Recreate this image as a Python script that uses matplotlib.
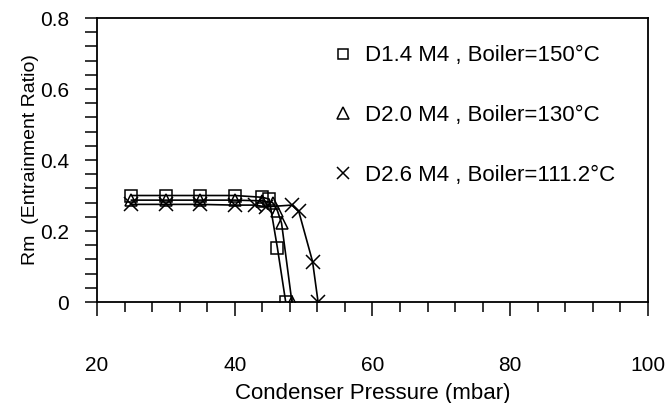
import matplotlib.pyplot as plt
from matplotlib.ticker import MultipleLocator

plt.rcParams['font.family'] = ['Liberation Sans', 'DejaVu Sans']

# condenser pressure (mbar) and entrainment ratio for each nozzle
p_d14 = [25, 30, 35, 40, 44, 45, 46.2, 47.4]
rm_d14 = [0.30, 0.30, 0.30, 0.30, 0.295, 0.29, 0.152, 0.0]

p_d20 = [25, 30, 35, 40, 44, 45.5, 46.2, 46.8, 48.3]
rm_d20 = [0.287, 0.287, 0.287, 0.287, 0.285, 0.28, 0.257, 0.222, 0.0]

p_d26 = [25, 30, 35, 40, 43, 44.5, 48.3, 49.3, 51.3, 52.1]
rm_d26 = [0.275, 0.275, 0.275, 0.273, 0.273, 0.268, 0.273, 0.255, 0.114, 0.0]

labels = ['D1.4 M4 , Boiler=150°C',
          'D2.0 M4 , Boiler=130°C',
          'D2.6 M4 , Boiler=111.2°C']

fig = plt.figure(figsize=(6.67, 4.03), dpi=100)
ax = fig.add_axes([0.1454, 0.2506, 0.8261, 0.7047])

ax.plot(p_d14, rm_d14, color='black', lw=1.2, marker='s', ms=8,
        mfc='none', mec='black', mew=1.1)
ax.plot(p_d20, rm_d20, color='black', lw=1.2, marker='^', ms=9,
        mfc='none', mec='black', mew=1.1)
ax.plot(p_d26, rm_d26, color='black', lw=1.2, marker='x', ms=10,
        mec='black', mew=1.1)

# legend drawn as plain marker + text rows
h1, = ax.plot([], [], ls='none', marker='s', ms=7, mfc='none', mec='black', mew=1.1)
h2, = ax.plot([], [], ls='none', marker='^', ms=8, mfc='none', mec='black', mew=1.1)
h3, = ax.plot([], [], ls='none', marker='x', ms=9, mec='black', mew=1.1)
ax.legend([h1, h2, h3], labels, loc='upper left', bbox_to_anchor=(0.41, 0.935),
          frameon=False, fontsize=16, numpoints=1, handlelength=1.0,
          handletextpad=0.49, labelspacing=1.75, borderaxespad=0)

ax.set_xlim(20, 100)
ax.set_ylim(0, 0.8)
ax.xaxis.set_major_locator(MultipleLocator(20))
ax.xaxis.set_minor_locator(MultipleLocator(4))
ax.yaxis.set_major_locator(MultipleLocator(0.2))
ax.yaxis.set_minor_locator(MultipleLocator(0.04))
ax.set_yticks([0, 0.2, 0.4, 0.6, 0.8])
ax.set_yticklabels(['0', '0.2', '0.4', '0.6', '0.8'])

ax.tick_params(axis='x', which='major', direction='out', length=10, width=1.1,
               labelsize=15, pad=29)
ax.tick_params(axis='x', which='minor', direction='out', length=7, width=1.1)
ax.tick_params(axis='y', which='both', direction='out', length=9, width=1.1,
               labelsize=15, pad=11)

for s in ax.spines.values():
    s.set_linewidth(1.3)

ax.set_xlabel('Condenser Pressure (mbar)', fontsize=16, labelpad=5.5)
ax.set_ylabel('Rm  (Entrainment Ratio)', fontsize=14, labelpad=1)

fig.savefig('out.png', dpi=100)
